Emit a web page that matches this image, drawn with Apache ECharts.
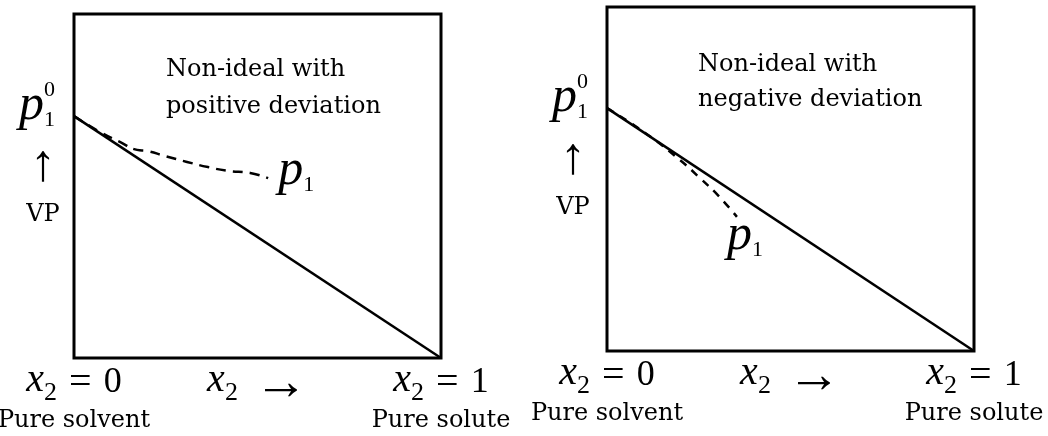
<!DOCTYPE html>
<html>
<head>
<meta charset="utf-8">
<script src="https://cdn.jsdelivr.net/npm/echarts@6/dist/echarts.min.js"></script>
<style>
  body { margin: 0; background: #fff; }
  #main { width: 1048px; height: 436px; }
</style>
</head>
<body>
<div id="main"></div>
<script>
// vapour pressure vs mole fraction of solute, two panels
const xEnds = [0, 1];
const idealLeftY = [0.703, 0];
const idealRightY = [0.706, 0];
const posDevX = [0, 0.071, 0.125, 0.172, 0.199, 0.248, 0.308, 0.365, 0.420, 0.480, 0.529];
const posDevY = [0.703, 0.657, 0.628, 0.605, 0.602, 0.587, 0.570, 0.555, 0.544, 0.538, 0.523];
const negDevX = [0, 0.104, 0.199, 0.253, 0.302, 0.354];
const negDevY = [0.706, 0.634, 0.555, 0.503, 0.453, 0.390];
const titles = ['Non-ideal with\npositive deviation', 'Non-ideal with\nnegative deviation'];
const xTickValues = ['0', '1'];
const xTickNotes = ['Pure solvent', 'Pure solute'];

const serif = 'Liberation Serif';
const text = 'DejaVu Serif';

const chart = echarts.init(document.getElementById('main'));

const tickRich = {
    x: { fontFamily: serif, fontStyle: 'italic', fontSize: 40, lineHeight: 36, verticalAlign: 'top', padding: [2, 0, 0, 0], color: '#000' },
    s: { fontFamily: serif, fontSize: 26, lineHeight: 36, verticalAlign: 'top', padding: [22, 0, 0, 0], color: '#000' },
    e: { fontFamily: serif, fontSize: 40, lineHeight: 36, verticalAlign: 'top', padding: [5, 12, 0, 12], color: '#000' },
    n: { fontFamily: serif, fontSize: 36, lineHeight: 36, verticalAlign: 'top', padding: [7, 0, 0, 0], color: '#000' },
    a: { fontFamily: serif, fontSize: 54, lineHeight: 36, verticalAlign: 'top', padding: [0, 0, 0, 16], color: '#000' },
    t: { fontFamily: text, fontSize: 24, lineHeight: 54, color: '#000' }
};

const pRich = {
    sup: { fontFamily: serif, fontSize: 22, lineHeight: 4, verticalAlign: 'top', padding: [0, 0, 0, 0], color: '#000' },
    p: { fontFamily: serif, fontStyle: 'italic', fontSize: 50, lineHeight: 40, verticalAlign: 'top', padding: [-2, 0, 0, 0], color: '#000' },
    sub: { fontFamily: serif, fontSize: 22, lineHeight: 40, verticalAlign: 'top', padding: [26, 0, 0, 0], color: '#000' }
};

const vpRich = {
    a: { fontFamily: serif, fontSize: 52, lineHeight: 40, color: '#000' },
    v: { fontFamily: text, fontSize: 24, lineHeight: 40, verticalAlign: 'top', padding: [17, 0, 0, 0], color: '#000' }
};

function makeX(i) {
    return {
        type: 'value', gridIndex: i, min: 0, max: 1, interval: 1,
        axisLine: { show: false }, axisTick: { show: false }, splitLine: { show: false },
        axisLabel: {
            margin: 0,
            formatter: (v) => {
                const k = xEnds.indexOf(v);
                return '{x|x}{s|2}{e|=}{n|' + xTickValues[k] + '}\n{t|' + xTickNotes[k] + '}';
            },
            rich: tickRich
        },
        name: '{x|x}{s|2}{a|→}',
        nameLocation: 'middle',
        nameGap: 0,
        nameMoveOverlap: false,
        nameTextStyle: { rich: tickRich }
    };
}

function makeY(i, gap) {
    return {
        type: 'value', gridIndex: i, min: 0, max: 1,
        axisLine: { show: false }, axisTick: { show: false }, splitLine: { show: false },
        axisLabel: { show: false },
        name: '{a|↑}\n{v|VP}',
        nameLocation: 'middle',
        nameRotate: 0,
        nameGap: gap,
        nameMoveOverlap: false,
        nameTextStyle: { align: 'center', rich: vpRich }
    };
}

const p0Label = {
    show: true, position: 'left', distance: 19, offset: [0, -15],
    formatter: (p) => p.dataIndex === 0 ? '{sup|0}\n{p|p}{sub|1}' : '',
    rich: pRich
};

const option = {
    animation: false,
    backgroundColor: '#fff',
    title: [
        { text: titles[0], left: 166, top: 51, padding: 0,
          textStyle: { fontFamily: text, fontSize: 24, fontWeight: 'normal', lineHeight: 37, color: '#000' } },
        { text: titles[1], left: 698, top: 47, padding: 0,
          textStyle: { fontFamily: text, fontSize: 24, fontWeight: 'normal', lineHeight: 35, color: '#000' } }
    ],
    grid: [
        { left: 74, top: 14, width: 367, height: 344, outerBoundsMode: 'none', show: true, borderColor: '#000', borderWidth: 3, backgroundColor: 'transparent' },
        { left: 607, top: 7, width: 367, height: 344, outerBoundsMode: 'none', show: true, borderColor: '#000', borderWidth: 3, backgroundColor: 'transparent' }
    ],
    xAxis: [makeX(0), makeX(1)],
    yAxis: [makeY(0, 31), makeY(1, 34)],
    series: [
        {
            type: 'line', xAxisIndex: 0, yAxisIndex: 0,
            data: xEnds.map((x, i) => [x, idealLeftY[i]]),
            symbol: 'circle', symbolSize: 0,
            lineStyle: { color: '#000', width: 2.5 },
            label: p0Label
        },
        {
            type: 'line', xAxisIndex: 0, yAxisIndex: 0, smooth: true,
            data: posDevX.map((x, i) => [x, posDevY[i]]),
            symbol: 'circle', symbolSize: 0,
            lineStyle: { color: '#000', width: 2.5, type: [10, 7] },
            label: {
                show: true, position: 'right', distance: 10, offset: [0, -10],
                formatter: (p) => p.dataIndex === posDevX.length - 1 ? '{p|p}{sub|1}' : '',
                rich: pRich
            }
        },
        {
            type: 'line', xAxisIndex: 1, yAxisIndex: 1,
            data: xEnds.map((x, i) => [x, idealRightY[i]]),
            symbol: 'circle', symbolSize: 0,
            lineStyle: { color: '#000', width: 2.5 },
            label: p0Label
        },
        {
            type: 'line', xAxisIndex: 1, yAxisIndex: 1, smooth: true,
            data: negDevX.map((x, i) => [x, negDevY[i]]),
            symbol: 'circle', symbolSize: 0,
            lineStyle: { color: '#000', width: 2.5, type: [8, 7] },
            label: {
                show: true, position: 'bottom', distance: 0, offset: [8, -4],
                formatter: (p) => p.dataIndex === negDevX.length - 1 ? '{p|p}{sub|1}' : '',
                rich: pRich
            }
        }
    ]
};

chart.setOption(option);
</script>
</body>
</html>
